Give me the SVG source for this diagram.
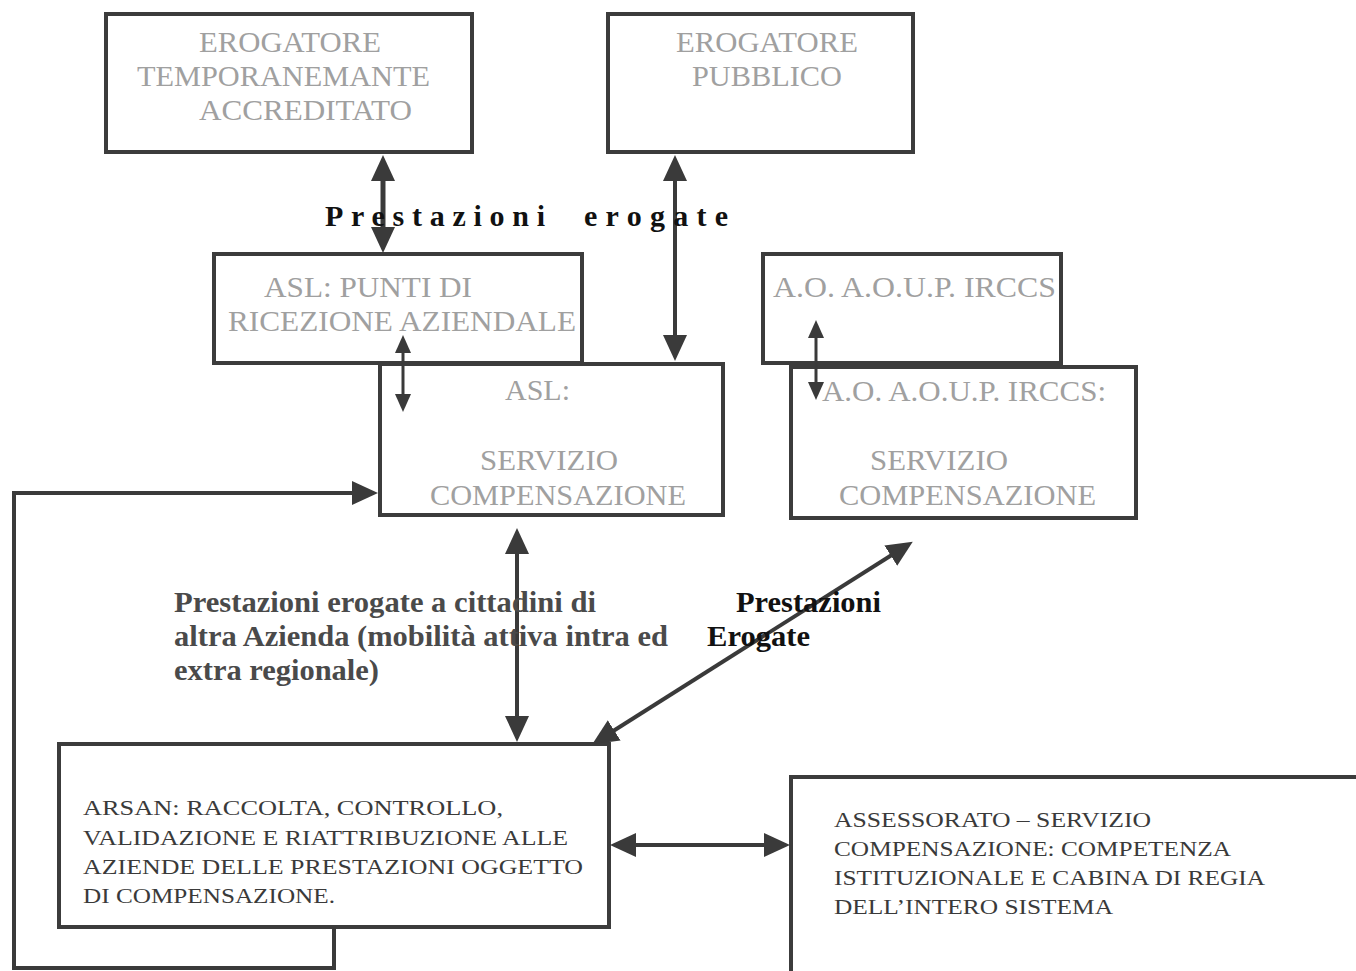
<svg xmlns="http://www.w3.org/2000/svg" width="1356" height="971" viewBox="0 0 1356 971">
<style>
.box{fill:#fff;stroke:#3c3c3c;stroke-width:4}
.bt{font-family:"Liberation Serif","Times New Roman",serif;font-size:30px;fill:#a0a0a0}
.dt{font-family:"Liberation Serif","Times New Roman",serif;font-size:22px;fill:#3a3a3a}
.lb{font-family:"Liberation Serif","Times New Roman",serif;font-weight:bold;fill:#111}
.lg{font-family:"Liberation Serif","Times New Roman",serif;font-weight:bold;font-size:29px;fill:#4a4a4a}
.c{fill:none;stroke:#3a3a3a}
</style>
<defs>
<marker id="big" markerUnits="userSpaceOnUse" viewBox="0 0 26 24" markerWidth="26" markerHeight="24" refX="18" refY="12" orient="auto-start-reverse"><path d="M0,0 L26,12 L0,24 z" fill="#3a3a3a"/></marker>
<marker id="sm" markerUnits="userSpaceOnUse" viewBox="0 0 18 16" markerWidth="18" markerHeight="16" refX="12" refY="8" orient="auto-start-reverse"><path d="M0,0 L18,8 L0,16 z" fill="#3a3a3a"/></marker>
</defs>
<rect width="1356" height="971" fill="#fff"/>

<g id="n-erogatore-temp">
<rect class="box" x="106" y="14" width="366" height="138"/>
<text class="bt" x="199" y="52" textLength="182" lengthAdjust="spacingAndGlyphs">EROGATORE</text>
<text class="bt" x="137" y="86" textLength="293" lengthAdjust="spacingAndGlyphs">TEMPORANEMANTE</text>
<text class="bt" x="199" y="120" textLength="213" lengthAdjust="spacingAndGlyphs">ACCREDITATO</text>
</g>
<g id="n-erogatore-pubblico">
<rect class="box" x="608" y="14" width="305" height="138"/>
<text class="bt" x="676" y="52" textLength="182" lengthAdjust="spacingAndGlyphs">EROGATORE</text>
<text class="bt" x="692" y="86" textLength="150" lengthAdjust="spacingAndGlyphs">PUBBLICO</text>
</g>
<g id="n-asl-punti">
<rect class="box" x="214" y="254" width="368" height="109"/>
<text class="bt" x="264" y="297" textLength="208" lengthAdjust="spacingAndGlyphs">ASL: PUNTI  DI</text>
<text class="bt" x="228" y="331" textLength="348" lengthAdjust="spacingAndGlyphs">RICEZIONE  AZIENDALE</text>
</g>
<g id="n-asl-servizio">
<rect class="box" x="380" y="364" width="343" height="151"/>
<text class="bt" x="505" y="400" textLength="65" lengthAdjust="spacingAndGlyphs">ASL:</text>
<text class="bt" x="480" y="470" textLength="138" lengthAdjust="spacingAndGlyphs">SERVIZIO</text>
<text class="bt" x="430" y="505" textLength="256" lengthAdjust="spacingAndGlyphs">COMPENSAZIONE</text>
</g>
<g id="n-ao">
<rect class="box" x="763" y="254" width="298" height="109"/>
<text class="bt" x="773" y="297" textLength="283" lengthAdjust="spacingAndGlyphs">A.O.  A.O.U.P. IRCCS</text>
</g>
<g id="n-ao-servizio">
<rect class="box" x="791" y="367" width="345" height="151"/>
<text class="bt" x="822" y="401" textLength="284" lengthAdjust="spacingAndGlyphs">A.O. A.O.U.P. IRCCS:</text>
<text class="bt" x="870" y="470" textLength="138" lengthAdjust="spacingAndGlyphs">SERVIZIO</text>
<text class="bt" x="839" y="505" textLength="257" lengthAdjust="spacingAndGlyphs">COMPENSAZIONE</text>
</g>
<g id="n-arsan">
<rect class="box" x="59" y="744" width="550" height="183"/>
<text class="dt" x="83" y="815" textLength="420" lengthAdjust="spacingAndGlyphs">ARSAN:  RACCOLTA,  CONTROLLO,</text>
<text class="dt" x="83" y="845" textLength="485" lengthAdjust="spacingAndGlyphs">VALIDAZIONE E RIATTRIBUZIONE ALLE</text>
<text class="dt" x="83" y="874" textLength="500" lengthAdjust="spacingAndGlyphs">AZIENDE DELLE  PRESTAZIONI OGGETTO</text>
<text class="dt" x="83" y="903" textLength="252" lengthAdjust="spacingAndGlyphs">DI COMPENSAZIONE.</text>
</g>
<g id="n-assessorato">
<rect class="box" x="791" y="777" width="600" height="210"/>
<text class="dt" x="834" y="827" textLength="317" lengthAdjust="spacingAndGlyphs">ASSESSORATO – SERVIZIO</text>
<text class="dt" x="834" y="856" textLength="397" lengthAdjust="spacingAndGlyphs">COMPENSAZIONE: COMPETENZA</text>
<text class="dt" x="834" y="885" textLength="431" lengthAdjust="spacingAndGlyphs">ISTITUZIONALE E CABINA DI REGIA</text>
<text class="dt" x="834" y="914" textLength="279" lengthAdjust="spacingAndGlyphs">DELL’INTERO SISTEMA</text>
</g>

<g id="connectors">
<line class="c" stroke-width="5" x1="383" y1="163" x2="383" y2="245" marker-start="url(#big)" marker-end="url(#big)"/>
<line class="c" stroke-width="4" x1="675" y1="163" x2="675" y2="353" marker-start="url(#big)" marker-end="url(#big)"/>
<line class="c" stroke-width="3" x1="403" y1="341" x2="403" y2="406" marker-start="url(#sm)" marker-end="url(#sm)"/>
<line class="c" stroke-width="3" x1="816" y1="326" x2="816" y2="394" marker-start="url(#sm)" marker-end="url(#sm)"/>
<line class="c" stroke-width="4" x1="517" y1="536" x2="517" y2="734" marker-start="url(#big)" marker-end="url(#big)"/>
<line class="c" stroke-width="4" x1="599" y1="740" x2="906" y2="546" marker-start="url(#big)" marker-end="url(#big)"/>
<line class="c" stroke-width="4" x1="618" y1="845" x2="782" y2="845" marker-start="url(#big)" marker-end="url(#big)"/>
<polyline class="c" stroke-width="4" points="334,927 334,968 14,968 14,493 370,493" marker-end="url(#big)"/>
</g>

<g id="labels">
<text class="lb" font-size="30" x="325" y="226" textLength="220" lengthAdjust="spacing">Prestazioni</text>
<text class="lb" font-size="30" x="584" y="226" textLength="144" lengthAdjust="spacing">erogate</text>
<text class="lg" x="174" y="612" textLength="422" lengthAdjust="spacingAndGlyphs">Prestazioni erogate a cittadini di</text>
<text class="lg" x="174" y="646" textLength="494" lengthAdjust="spacingAndGlyphs">altra Azienda (mobilità attiva intra ed</text>
<text class="lg" x="174" y="680" textLength="205" lengthAdjust="spacingAndGlyphs">extra regionale)</text>
<text class="lb" font-size="29" x="736" y="612" textLength="145" lengthAdjust="spacingAndGlyphs">Prestazioni</text>
<text class="lb" font-size="29" x="707" y="646" textLength="103" lengthAdjust="spacingAndGlyphs">Erogate</text>
</g>
</svg>
